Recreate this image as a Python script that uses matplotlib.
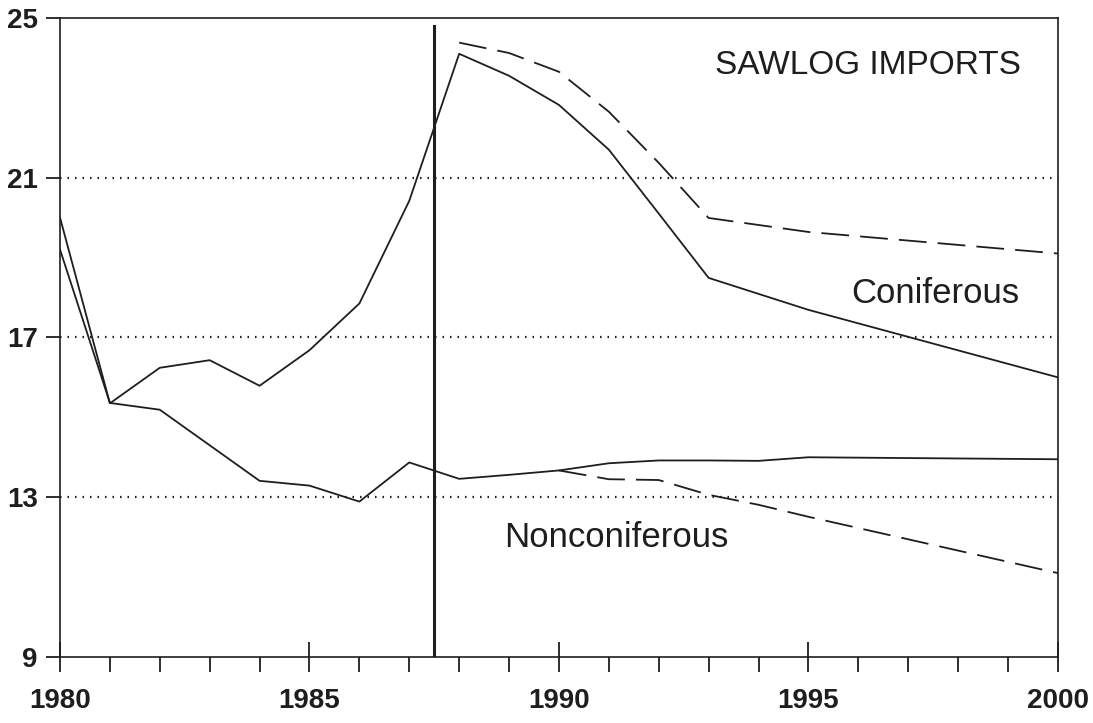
import matplotlib
matplotlib.use('Agg')
import matplotlib.pyplot as plt
import numpy as np

plt.rcParams['font.family'] = ['Liberation Sans', 'DejaVu Sans']
plt.rcParams['lines.scale_dashes'] = False

# coniferous, actual + base projection (solid)
con_years = [1980, 1981, 1982, 1983, 1984, 1985, 1986, 1987, 1988, 1989, 1990, 1991, 1992, 1993, 1995, 2000]
con_vals = [20.0, 15.35, 16.24, 16.43, 15.79, 16.68, 17.85, 20.42, 24.1, 23.55, 22.82, 21.7, 20.1, 18.49, 17.69, 16.0]
# coniferous alternative projection (dashed)
con_alt_years = [1988, 1989, 1990, 1991, 1992, 1993, 1995, 2000]
con_alt_vals = [24.38, 24.12, 23.65, 22.65, 21.37, 19.99, 19.64, 19.1]

# nonconiferous (solid)
non_years = [1980, 1981, 1982, 1983, 1984, 1985, 1986, 1987, 1988, 1989, 1990, 1991, 1992, 1993, 1994, 1995, 2000]
non_vals = [19.2, 15.36, 15.19, 14.3, 13.41, 13.29, 12.89, 13.87, 13.46, 13.56, 13.67, 13.85, 13.92, 13.92, 13.91, 14.0, 13.95]
# nonconiferous alternative (dashed)
non_alt_years = [1990, 1991, 1992, 1993, 1994, 1995, 2000]
non_alt_vals = [13.67, 13.45, 13.43, 13.06, 12.81, 12.51, 11.1]

divider_year = 1987.5
grid_levels = [13, 17, 21]
y_ticks = [9, 13, 17, 21, 25]
x_major = [1980, 1985, 1990, 1995, 2000]

ink = '#1e1e1e'

fig = plt.figure(figsize=(10.93, 7.23), dpi=100)
ax = fig.add_axes([0.0549, 0.0913, 0.913, 0.884])

for lev in grid_levels:
    ax.axhline(lev, color=ink, lw=1.6, dashes=(1.1, 4.3), zorder=1)

ax.plot(con_years, con_vals, color=ink, lw=1.3, zorder=3)
ax.plot(con_alt_years, con_alt_vals, color=ink, lw=1.3, dashes=(20, 8), zorder=3)
ax.plot(non_years, non_vals, color=ink, lw=1.3, zorder=3)
ax.plot(non_alt_years, non_alt_vals, color=ink, lw=1.3, dashes=(20, 8), zorder=3)

ax.plot([divider_year, divider_year], [9, 24.8], color=ink, lw=2.2, zorder=4)

ax.text(1996.2, 23.8, 'SAWLOG IMPORTS', fontsize=24, ha='center', va='center', color=ink)
ax.text(1997.55, 18.1, 'Coniferous', fontsize=25, ha='center', va='center', color=ink)
ax.text(1991.15, 12.0, 'Nonconiferous', fontsize=25, ha='center', va='center', color=ink)

ax.set_xlim(1980, 2000)
ax.set_ylim(9, 25)
ax.set_xticks(x_major)
ax.set_xticks(np.arange(1980, 2001), minor=True)
ax.set_yticks(y_ticks)
ax.tick_params(axis='x', which='major', direction='inout', length=22, width=1.3,
               pad=11, labelsize=20, colors=ink)
ax.tick_params(axis='x', which='minor', direction='out', length=11, width=1.3, colors=ink)
ax.tick_params(axis='y', which='major', direction='out', length=10, width=1.3,
               pad=6, labelsize=20, colors=ink)
for lab in ax.get_xticklabels() + ax.get_yticklabels():
    lab.set_fontweight('bold')

for s in ax.spines.values():
    s.set_linewidth(1.2)
    s.set_color(ink)

fig.savefig('out.png', dpi=100)
